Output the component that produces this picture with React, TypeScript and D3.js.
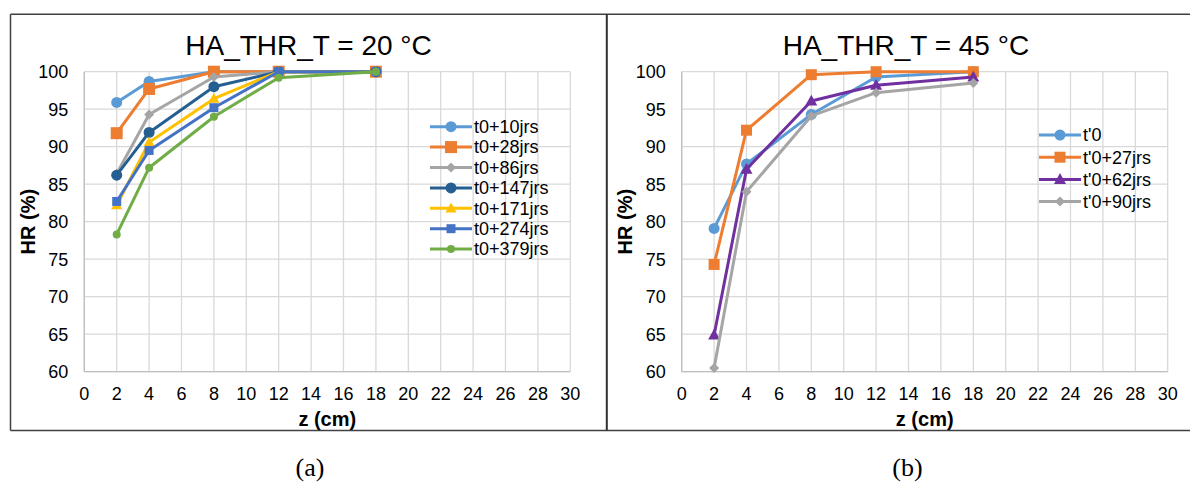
import React from "react";
import * as d3 from "d3";

const zPositions = [2, 4, 8, 12, 18];
const xTickValues = [0, 2, 4, 6, 8, 10, 12, 14, 16, 18, 20, 22, 24, 26, 28, 30];
const yTickValues = [60, 65, 70, 75, 80, 85, 90, 95, 100];

// Panel (a) HA_THR_T = 20 °C
const t0_10 = [95.9, 98.7, 100, 100, 100];
const t0_28 = [91.8, 97.7, 100, 100, 100];
const t0_86 = [86.4, 94.3, 99.3, 100, 100];
const t0_147 = [86.2, 91.9, 98.0, 100, 100];
const t0_171 = [82.2, 90.6, 96.4, 100, 100];
const t0_274 = [82.7, 89.5, 95.2, 100, 100];
const t0_379 = [78.3, 87.2, 94.0, 99.2, 100];

// Panel (b) HA_THR_T = 45 °C
const tp0 = [79.1, 87.7, 94.3, 99.3, 100];
const tp0_27 = [74.3, 92.2, 99.6, 100, 100];
const tp0_62 = [64.9, 87.0, 96.1, 98.2, 99.3];
const tp0_90 = [60.5, 84.0, 94.1, 97.2, 98.5];

type Shape = "circle" | "square" | "diamond" | "triangle";
interface Series {
  name: string;
  values: number[];
  color: string;
  shape: Shape;
  size: number;
}

const seriesA: Series[] = [
  { name: "t0+10jrs", values: t0_10, color: "#5B9BD5", shape: "circle", size: 11 },
  { name: "t0+28jrs", values: t0_28, color: "#ED7D31", shape: "square", size: 12 },
  { name: "t0+86jrs", values: t0_86, color: "#A5A5A5", shape: "diamond", size: 10 },
  { name: "t0+147jrs", values: t0_147, color: "#255E91", shape: "circle", size: 11 },
  { name: "t0+171jrs", values: t0_171, color: "#FFC000", shape: "triangle", size: 11 },
  { name: "t0+274jrs", values: t0_274, color: "#4472C4", shape: "square", size: 9 },
  { name: "t0+379jrs", values: t0_379, color: "#70AD47", shape: "circle", size: 8 },
];

const seriesB: Series[] = [
  { name: "t'0", values: tp0, color: "#5B9BD5", shape: "circle", size: 11 },
  { name: "t'0+27jrs", values: tp0_27, color: "#ED7D31", shape: "square", size: 11 },
  { name: "t'0+62jrs", values: tp0_62, color: "#7030A0", shape: "triangle", size: 12 },
  { name: "t'0+90jrs", values: tp0_90, color: "#A5A5A5", shape: "diamond", size: 10 },
];

function markerPath(shape: Shape, s: number): string {
  const h = s / 2;
  if (shape === "circle") {
    const p = d3.path();
    p.arc(0, 0, h, 0, Math.PI * 2);
    p.closePath();
    return p.toString();
  }
  if (shape === "square") return `M${-h},${-h}H${h}V${h}H${-h}Z`;
  if (shape === "diamond") return `M0,${-h}L${h},0L0,${h}L${-h},0Z`;
  return `M0,${-h * 1.05}L${h},${h * 0.75}L${-h},${h * 0.75}Z`;
}

const FONT = "'Liberation Sans', Arial, sans-serif";

interface PanelProps {
  ox: number;
  title: string;
  series: Series[];
  legendX: number;
  legendY: number;
  legendStep: number;
  caption: string;
}

function Panel({ ox, title, series, legendX, legendY, legendStep, caption }: PanelProps) {
  const left = ox + 84.3;
  const right = ox + 570.3;
  const top = 71.7;
  const bottom = 371.7;
  const x = d3.scaleLinear().domain([0, 30]).range([left, right]);
  const y = d3.scaleLinear().domain([60, 100]).range([bottom, top]);
  const line = d3
    .line<number>()
    .x((_, i) => x(zPositions[i]))
    .y((d) => y(d));
  const cx = (left + right) / 2;
  const cy = (top + bottom) / 2;
  return (
    <g>
      <text x={ox + 308.5} y={55} fontFamily={FONT} fontSize={28} textAnchor="middle" fill="#000">
        {title}
      </text>
      {xTickValues.map((t) => (
        <line key={"gx" + t} x1={x(t)} x2={x(t)} y1={top} y2={bottom} stroke="#D9D9D9" strokeWidth={1.3} />
      ))}
      {yTickValues.map((t) => (
        <line key={"gy" + t} x1={left} x2={right} y1={y(t)} y2={y(t)} stroke="#D9D9D9" strokeWidth={1.3} />
      ))}
      <line x1={left} x2={left} y1={top} y2={bottom} stroke="#BFBFBF" strokeWidth={1.3} />
      <line x1={left} x2={right} y1={bottom} y2={bottom} stroke="#BFBFBF" strokeWidth={1.3} />
      {yTickValues.map((t) => (
        <text key={"ty" + t} x={left - 16} y={y(t)} dy="0.35em" fontFamily={FONT} fontSize={18} textAnchor="end" fill="#000">
          {t}
        </text>
      ))}
      {xTickValues.map((t) => (
        <text key={"tx" + t} x={x(t)} y={393.5} dy="0.35em" fontFamily={FONT} fontSize={18} textAnchor="middle" fill="#000">
          {t}
        </text>
      ))}
      <text x={cx} y={418.5} dy="0.35em" fontFamily={FONT} fontSize={20} fontWeight="bold" textAnchor="middle" fill="#000">
        z (cm)
      </text>
      <text
        transform={`translate(${ox + 28},${cy}) rotate(-90)`}
        dy="0.35em"
        fontFamily={FONT}
        fontSize={20}
        fontWeight="bold"
        textAnchor="middle"
        fill="#000"
      >
        HR (%)
      </text>
      {series.map((s) => (
        <g key={s.name}>
          <path d={line(s.values) || ""} fill="none" stroke={s.color} strokeWidth={3} strokeLinejoin="round" />
          {s.values.map((v, i) => (
            <path key={i} d={markerPath(s.shape, s.size)} transform={`translate(${x(zPositions[i])},${y(v)})`} fill={s.color} />
          ))}
        </g>
      ))}
      {series.map((s, i) => {
        const ly = legendY + i * legendStep;
        return (
          <g key={"lg" + s.name}>
            <line x1={legendX} x2={legendX + 42} y1={ly} y2={ly} stroke={s.color} strokeWidth={3} />
            <path d={markerPath(s.shape, s.size)} transform={`translate(${legendX + 21},${ly})`} fill={s.color} />
            <text x={legendX + 44} y={ly} dy="0.35em" fontFamily={FONT} fontSize={18} fill="#000">
              {s.name}
            </text>
          </g>
        );
      })}
      <text x={ox + 310} y={467} dy="0.33em" fontFamily="'Liberation Serif', 'Times New Roman', serif" fontSize={26} textAnchor="middle" fill="#000">
        {caption}
      </text>
    </g>
  );
}

export default function App() {
  return (
    <svg
      width={1190}
      height={483}
      style={{ position: "absolute", left: 0, top: 0, display: "block", background: "#fff" }}
    >
      <rect x={0} y={0} width={1190} height={483} fill="#fff" />
      <line x1={10.5} x2={1190} y1={14.3} y2={14.3} stroke="#404040" strokeWidth={1.5} />
      <line x1={10.5} x2={1190} y1={430.5} y2={430.5} stroke="#404040" strokeWidth={1.5} />
      <line x1={10.5} x2={10.5} y1={14.3} y2={430.5} stroke="#404040" strokeWidth={1.5} />
      <line x1={606.8} x2={606.8} y1={14.3} y2={430.5} stroke="#303030" strokeWidth={2} />
      <Panel
        ox={0}
        title="HA_THR_T = 20 °C"
        series={seriesA}
        legendX={430}
        legendY={126.7}
        legendStep={20.4}
        caption="(a)"
      />
      <Panel
        ox={597.4}
        title="HA_THR_T = 45 °C"
        series={seriesB}
        legendX={1039}
        legendY={135}
        legendStep={22.2}
        caption="(b)"
      />
    </svg>
  );
}
